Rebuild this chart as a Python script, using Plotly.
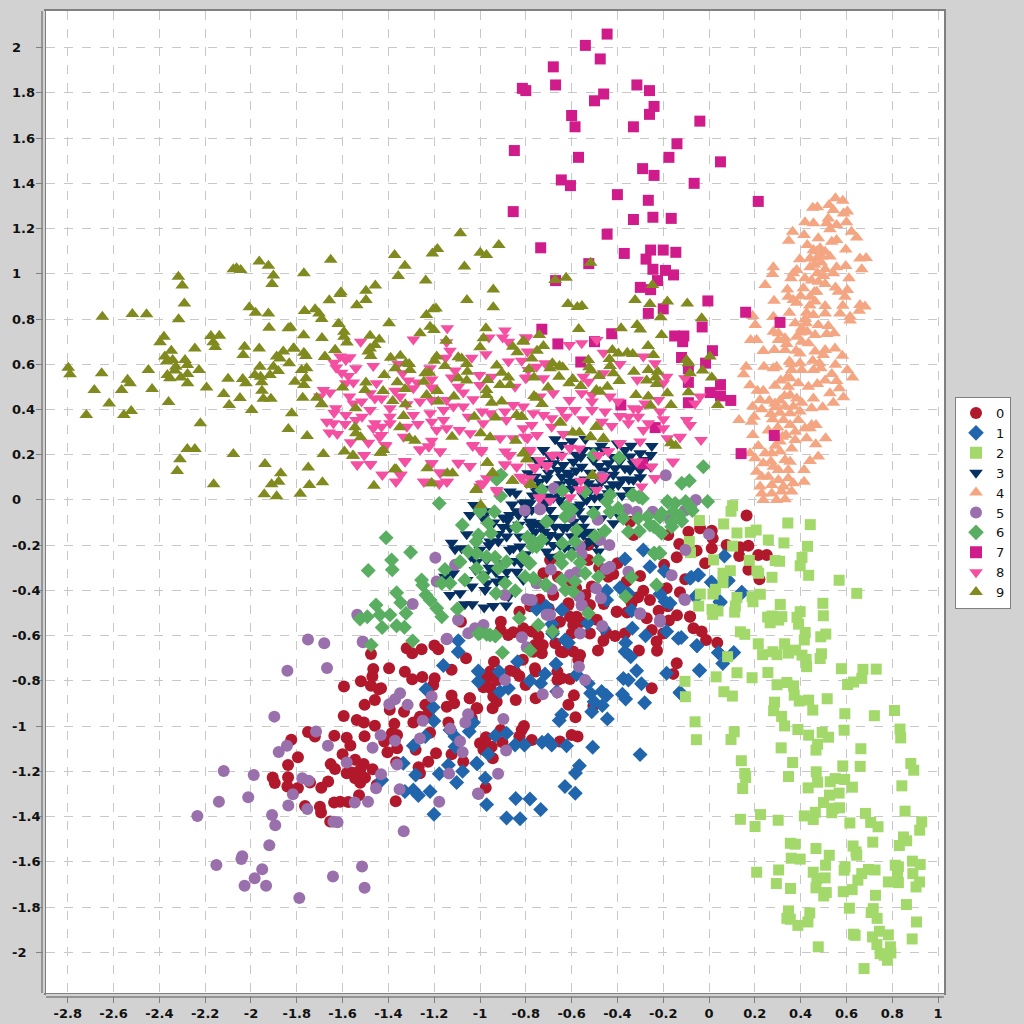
import plotly.graph_objects as go

labels = ["0", "1", "2", "3", "4", "5", "6", "7", "8", "9"]
x_ticks = [-2.8, -2.6, -2.4, -2.2, -2, -1.8, -1.6, -1.4, -1.2, -1, -0.8, -0.6, -0.4, -0.2, 0, 0.2, 0.4, 0.6, 0.8, 1]
y_ticks = [-2, -1.8, -1.6, -1.4, -1.2, -1, -0.8, -0.6, -0.4, -0.2, 0, 0.2, 0.4, 0.6, 0.8, 1, 1.2, 1.4, 1.6, 1.8, 2]

c0 = [(-1.476,-.681),(-1.397,-.744),(-1.466,-.747),(-1.47,-.781),(-1.52,-.802),(-1.594,-.825),(-1.476,-.821),(-1.432,-.833),(-1.442,-.837),(-1.328,-.76),(-1.296,-.793),(-1.252,-.783),(-1.198,-.788),(-1.204,-.818),(-1.32,-.656),(-1.296,-.678),(-1.255,-.66),(-1.199,-.644),(-1.182,-.66),(-1.083,-.538),(-1.061,-.7),(-1.124,-.751),(-1.459,-.884),(-1.504,-.906),(-1.394,-.928),(-1.332,-.936),(-1.239,-.906),(-1.226,-.943),(-1.124,-.865),(-1.045,-.877),(-1.145,-.914),(-1.113,-.899),(-1.015,-.921),(-1.595,-.955),(-1.538,-.973),(-1.507,-.984),(-1.374,-.99),(-1.459,-.998),(-1.291,-.984),(-1.262,-.958),(-1.138,-.984),(-1.824,-1.06),(-1.751,-1.026),(-1.721,-1.046),(-1.636,-1.043),(-1.582,-1.051),(-1.504,-1.045),(-1.566,-1.086),(-1.385,-1.032),(-1.418,-1.068),(-1.362,-1.039),(-1.362,-1.098),(-1.404,-1.116),(-1.218,-1.029),(-1.281,-1.105),(-1.192,-1.12),(-1.226,-1.157),(-1.366,-1.16),(-1.6,-1.124),(-1.795,-1.138),(-1.838,-1.172),(-1.652,-1.168),(-1.633,-1.19),(-1.545,-1.149),(-1.508,-1.167),(-1.523,-1.193),(-1.582,-1.208),(-1.56,-1.205),(-1.545,-1.23),(-1.523,-1.25),(-1.502,-1.228),(-1.469,-1.191),(-1.905,-1.227),(-1.896,-1.251),(-1.838,-1.226),(-1.841,-1.267),(-1.795,-1.274),(-1.742,-1.249),(-1.693,-1.272),(-1.663,-1.245),(-1.528,-1.306),(-1.764,-1.353),(-1.699,-1.356),(-1.694,-1.382),(-1.637,-1.338),(-1.611,-1.334),(-1.575,-1.335),(-1.654,-1.422),(-1.368,-1.332),(-1.268,-1.182),(-1.262,-1.208),(-1.124,-1.124),(-1.073,-1.157),(-1,-1.076),(-1.451,-1.26),
(-.828,-.494),(-.909,-.538),(-.91,-.575),(-.877,-.597),(-.855,-.585),(-.811,-.567),(-.774,-.582),(-.745,-.601),(-.76,-.641),(-.726,-.641),(-.73,-.678),(-.767,-.671),(-.651,-.538),(-.614,-.464),(-.578,-.516),(-.593,-.553),(-.6,-.59),(-.52,-.59),(-.671,-.634),(-.647,-.671),(-.636,-.673),(-.593,-.67),(-.563,-.686),(-.571,-.707),(-.485,-.666),(-.461,-.622),(-.41,-.601),(-.367,-.59),(-.447,-.59),(-.403,-.494),(-.358,-.498),(-.272,-.523),(-.25,-.575),(-.175,-.533),(-.083,-.515),(-.068,-.567),(-.032,-.582),(-.013,-.619),(.036,-.631),(-.229,-.626),(-.227,-.667),(-.306,-.666),(-.2,-.59),(-.141,-.722),(-.156,-.769),(-.25,-.833),(-.939,-.715),(-.956,-.759),(-.971,-.788),(-.927,-.796),(-.985,-.828),(-.953,-.833),(-.942,-.869),(-.927,-.892),(-.945,-.921),(-1.012,-.921),(-1.044,-.877),(-.869,-.755),(-.847,-.759),(-.828,-.778),(-.813,-.707),(-.76,-.744),(-.757,-.759),(-.801,-.818),(-.757,-.877),(-.844,-.884),(-.662,-.759),(-.662,-.796),(-.643,-.788),(-.607,-.792),(-.59,-.864),(-.614,-.905),(-.505,-.911),(-.583,-.961),(-.808,-.999),(-.818,-1.017),(-.828,-1.046),(-.91,-1.017),(-.902,-1.071),(-.974,-1.049),(-.993,-1.076),(-.985,-1.105),(-.949,-1.091),(-.944,-1.142),(-.774,-1.061),(-.651,-1.068),(-.6,-1.039),(-.574,-1.046),(-.975,-1.272),(-1.036,-.965),
(.164,-.069),(-.09,-.14),(-.039,-.125),(.012,-.136),(.016,-.169),(-.178,-.155),(-.345,-.096),(-.13,-.195),(-.054,-.224),(.012,-.214),(.077,-.199),(.172,-.202),(.132,-.248),(.215,-.243),(.252,-.243),(-.141,-.253),(-.196,-.287),(-.301,-.336),(-.4,-.28),(-.418,-.327),(-.527,-.199),(-.017,-.28),(-.104,-.351),(.172,-.309),(.22,-.351),(-.512,-.383),(-.287,-.401),(-.258,-.442),(-.127,-.408),(-.185,-.39),(-.614,-.457),(-.403,-.494),(-.52,-.464),(-.338,-.457),(-.083,-.516),(-.607,-.516),(-.658,-.258),(-.694,-.265),(-.723,-.324),(-.33,-.155),(-.527,-.265),(.135,-.209),
(-.66,-.34),(-.62,-.36),(-.58,-.39),(-.54,-.42),(-.68,-.42),(-.74,-.44),(-.78,-.47),(-.7,-.48),(-.48,-.3),(-.44,-.34),(-.36,-.36),(-.31,-.43),(-.22,-.49),(-.18,-.47),(-.14,-.51),(-.46,-.46),(-.49,-.53),(-.56,-.54),(-.68,-.56)]

c1 = [(-.753,-.483),(-.712,-.471),(-.642,-.486),(-.686,-.548),(-.53,-.545),(-.683,-.59),(-.629,-.619),(-.614,-.631),(-.338,-.489),(-.335,-.567),(-.277,-.6),(-.185,-.582),(-.134,-.612),(-.054,-.644),(.041,-.675),(-.461,-.567),(-.364,-.631),(-.367,-.67),(-.342,-.693),(-.836,-.715),(-.916,-.759),(-1.007,-.756),(-1.007,-.803),(-.782,-.8),(-.716,-.769),(-.735,-.811),(-.668,-.725),(-.578,-.772),(-.527,-.811),(-.665,-.847),(-.876,-.833),(-.913,-.848),(-.517,-.855),(-.469,-.847),(-.447,-.865),(-.502,-.892),(-.466,-.909),(-.512,-.936),(-.374,-.789),(-.352,-.796),(-.316,-.755),(-.295,-.813),(-.378,-.859),(-.364,-.88),(-.281,-.897),(-.444,-.968),(-.643,-.95),(-.654,-.975),(-.185,-.766),(-.042,-.753),(-.127,-.85),(-1.029,-.984),(-.934,-1.042),(-.884,-1.031),(-.847,-1.083),(-.806,-1.083),(-.729,-1.071),(-.703,-1.061),(-.687,-1.083),(-.622,-1.087),(-.508,-1.093),(-.301,-1.126),(-.964,-1.123),(-1.012,-1.166),(-.977,-1.23),(-.566,-1.175),(-.583,-1.207),(-.629,-1.267),(-.584,-1.297),(-.844,-1.32),(-.782,-1.322),(-.971,-1.347),(-.735,-1.369),(-.884,-1.406),(-.825,-1.41),
(-1.095,-.622),(-1.095,-.671),(-1.16,-.732),(-1.007,-.759),(-1.236,-.837),(-1.204,-.917),(-1.201,-.977),(-1.131,-1.017),(-1.109,-1.046),(-1.036,-.987),(-1.047,-1.024),(-1.239,-1.046),(-1.291,-1.087),(-1.109,-1.091),(-1.138,-1.172),(-1.015,-1.164),(-1.335,-1.164),(-1.281,-1.216),(-1.178,-1.211),(-1.076,-1.2),(-1.102,-1.249),(-1.429,-1.238),(-1.328,-1.289),(-1.291,-1.282),(-1.269,-1.307),(-1.218,-1.289),(-1.201,-1.39),
(-.287,-.221),(-.258,-.295),(.067,-.248),(-.195,-.314),(-.083,-.346),(-.049,-.332),(-.367,-.261),(-.389,-.388),(-.447,-.401),(-.214,-.416),(-.192,-.449),(-.17,-.457),(.012,-.364),(.048,-.449),(.143,-.408),(.084,-.357),(-.054,-.427),(-.352,-.413),(-.643,-.486),(-.709,-.472),(-.338,-.489),(-.447,-.442),
(-.077,-.342),(-.045,-.332),(.01,-.364),(.081,-.354),(.144,-.41),(.049,-.453),(-.06,-.428),(-.052,-.645),(.042,-.676),(.108,-.674),(.06,-.723),(-.041,-.754),(-.121,-.608),(-.125,-.855)]

c2 = [(.103,-.025),(.096,-.05),(.344,-.102),(.442,-.109),(-.042,-.091),(.064,-.106),(.122,-.146),(.18,-.143),(.206,-.133),(.259,-.177),(.327,-.19),(.43,-.205),(-.086,-.184),(.103,-.204),(-.081,-.233),(.406,-.254),(.398,-.291),(.289,-.268),(.308,-.271),(.02,-.265),(.176,-.267),(.093,-.313),(.061,-.324),(.209,-.314),(.217,-.324),(.061,-.366),(.275,-.342),(.435,-.333),(.568,-.355),(.645,-.413),(-.038,-.416),(.017,-.416),(.028,-.395),(.122,-.431),(.188,-.428),(.192,-.45),(.224,-.417),(-.045,-.469),(.311,-.462),(.497,-.457),(.013,-.484),(.039,-.491),(.016,-.506),(.115,-.469),(.112,-.496),(.256,-.518),(.275,-.513),(.318,-.516),(.267,-.543),(.304,-.531),(.398,-.494),(.384,-.519),(.391,-.549),(.499,-.512),(.42,-.586),(.416,-.619),(.488,-.605),(.51,-.593),(.137,-.583),(.156,-.594),(.215,-.636),(.33,-.636),(.234,-.684),(.279,-.671),(.297,-.684),(.347,-.677),(.376,-.664),(.406,-.686),(.424,-.705),(.426,-.737),(.491,-.68),(.485,-.701),(.081,-.693),(.578,-.746),(.672,-.749),(.73,-.748),(.667,-.789),(.631,-.805),(.605,-.816),(.122,-.764),(.188,-.786),(.257,-.763),(.031,-.782),(-.105,-.802),(.297,-.817),(.34,-.807),(.369,-.822),(.372,-.863),(.394,-.889),(.435,-.885),(.516,-.879),(.453,-.929),(.286,-.894),(.282,-.932),(.317,-.957),(.33,-.999),(.065,-.848),(.102,-.867),(-.103,-.87),(-.061,-.981),(.11,-1.025),(.096,-1.059),(-.055,-1.06),(.388,-1.015),(.435,-1.04),(.494,-1.028),(.522,-1.049),(.474,-1.08),(.467,-1.106),(.315,-1.096),(.593,-.945),(.722,-.954),(.81,-.931),(.834,-1.013),(.837,-1.052),(.59,-1.018),(.663,-1.1),(.141,-1.153),(.365,-1.161),(.156,-1.209),(.16,-1.227),(.347,-1.223),(.468,-1.202),(.584,-1.176),(.66,-1.178),(.881,-1.165),(.894,-1.195),(.147,-1.276),(.474,-1.248),(.433,-1.273),(.529,-1.246),(.551,-1.232),(.592,-1.236),(.626,-1.27),(.842,-1.264),(.526,-1.305),(.568,-1.296),(.5,-1.338),(.544,-1.364),(.57,-1.361),(.536,-1.383),(.464,-1.381),(.416,-1.397),(.455,-1.413),(.137,-1.412),(.225,-1.391),(.201,-1.444),(.302,-1.416),(.683,-1.386),(.706,-1.426),(.738,-1.445),(.615,-1.428),(.856,-1.376),(.929,-1.423),(.92,-1.46),(.355,-1.518),(.376,-1.522),(.467,-1.541),(.629,-1.53),(.642,-1.556),(.645,-1.571),(.715,-1.513),(.849,-1.49),(.863,-1.507),(.831,-1.528),(.359,-1.584),(.398,-1.588),(.525,-1.571),(.509,-1.615),(.208,-1.646),(.304,-1.636),(.455,-1.646),(.594,-1.622),(.59,-1.637),(.696,-1.634),(.725,-1.636),(.667,-1.652),(.65,-1.681),(.813,-1.615),(.827,-1.622),(.823,-1.649),(.888,-1.597),(.922,-1.612),(.89,-1.652),(.783,-1.689),(.827,-1.692),(.919,-1.689),(.904,-1.711),(.294,-1.696),(.356,-1.718),(.471,-1.674),(.507,-1.671),(.467,-1.715),(.512,-1.736),(.501,-1.751),(.586,-1.732),(.625,-1.723),(.727,-1.748),(.862,-1.789),(.347,-1.817),(.613,-1.805),(.717,-1.807),(.708,-1.824),(.734,-1.85),(.34,-1.85),(.355,-1.854),(.44,-1.826),(.432,-1.866),(.388,-1.881),(.906,-1.866),(.631,-1.92),(.638,-1.925),(.744,-1.907),(.783,-1.923),(.714,-1.932),(.733,-1.966),(.792,-1.976),(.887,-1.941),(.477,-1.976),(.747,-2.006),(.794,-2.003),(.765,-2.013),(.779,-2.035),(.677,-2.072)]

c3 = [(-1.026,-.022),(-1.044,-.066),(-1.124,-.189),(-1.058,-.152),(-1.08,-.214),(-1.109,-.218),(-1.153,-.339),(-1.117,-.324),(-1.131,-.42),(-1.087,-.413),(-1.036,-.383),(-1.066,-.461),(-1.034,-.461),(-.982,-.475),(-.942,-.469),(-.978,-.398),(-.886,-.467),(-.986,-.081),(-.898,-.077),(-.869,-.066),(-.832,-.066),(-.869,.037),(-.843,.029),(-.79,.118),(-.76,.103),(-.723,.221),(-.694,.199),(-.811,-.015),(-.774,-.044),(-.869,-.125),(-.92,-.184),(-.956,-.184),(-.884,-.162),(-.825,-.206),(-.854,-.214),(-.825,-.162),(-.782,-.096),(-.774,-.118),(-.971,-.265),(-1.015,-.273),(-.884,-.317),(-.84,-.317),(-.811,-.354),(-.971,-.368),(-.927,-.361),(-.876,-.427),(-.709,.015),(-.723,-.029),(-.753,-.103),(-.709,-.177),(-.694,-.251),(-.731,-.118),(-.913,-.28),(-1.058,-.354),
(-.25,.239),(-.254,.199),(-.301,.133),(-.254,.147),(-.345,.192),(-.367,.221),(-.44,.162),(-.556,.147),(-.592,.169),(-.643,.243),(-.672,.269),(-.636,.155),(-.68,.162),(-.658,.133),(-.709,.096),(-.607,.109),(-.585,.074),(-.643,.103),(-.505,.177),(-.418,.111),(-.367,.14),(-.33,.088),(-.352,.044),(-.396,.066),(-.454,.096),(-.498,.059),(-.527,.074),(-.432,.052),(-.345,.133),(-.476,.015),(-.534,0),(-.571,-.029),(-.651,0),(-.716,0),(-.753,.037),(-.782,-.015),(-.694,-.044),(-.549,-.081),(-.592,-.096),(-.549,-.118),(-.672,-.118),(-.636,-.125),(-.738,-.103),(-.76,-.14),(-.694,-.155),(-.418,-.103),(-.469,-.081),(-.389,-.074),(-.549,-.155),(-.527,-.14),(-.491,-.192),(-.483,-.228),(-.68,-.199),(-.709,-.228),(-.738,-.177),(-.541,-.199),(-.6,-.162),(-.731,.162),(-.753,.177),(-.694,.192),(-.549,.221),(-.461,.221),(-.301,.206),(-.279,.177),
(-.6,.05),(-.55,.02),(-.65,.07),(-.62,.12),(-.52,.12),(-.48,.15),(-.42,.07),(-.38,.02),(-.7,.12),(-.74,.08),(-.72,-.02),(-.68,-.08),(-.62,-.12),(-.57,-.05),(-.62,-.03),(-.66,.03),(-.52,.04),(-.47,.08),(-.41,.14),(-.35,.09),(-.58,.2),(-.5,.22),(-.42,.19),(-.77,.02),(-.8,-.06),(-.83,-.11),(-.86,-.02),(-.9,-.12),(-.94,-.1),(-.97,-.05),(-1,-.16),(-1.04,-.25),(-.96,-.3),(-.9,-.35),(-.85,-.27),(-.8,-.24),(-.76,-.2),(-.65,-.2),(-.6,-.22),
(-.58,.13),(-.54,.09),(-.46,.13),(-.39,.17),(-.33,.16),(-.3,.1),(-.38,.09),(-.44,.03),(-.5,.01),(-.56,-.02),(-.6,-.06),(-.64,-.02),(-.68,.01),(-.72,.05),(-.76,.06),(-.8,-.01),(-.84,-.05),(-.88,-.09),(-.92,-.15),(-.96,-.2),(-1,-.22),(-1.02,-.31),(-.98,-.33),(-.93,-.32),(-.87,-.22),(-.82,-.28),(-.78,-.16),(-.72,-.14),(-.66,-.16),(-.63,-.21),(-.58,-.16),(-.52,-.18),(-.46,-.14),(-.43,-.06),(-.5,-.04),(-.61,.08),(-.66,.2),(-.6,.26),(-.54,.27),(-.47,.24),(-.4,.25),(-.34,.24),(-.56,.19),(-.5,.18)]

c4 = [(.552,1.334),(.584,1.323),(.524,1.304),(.453,1.292),(.473,1.294),(.543,1.282),(.604,1.275),(.587,1.267),(.521,1.245),(.419,1.228),(.456,1.223),(.6,1.228),(.514,1.223),(.557,1.216),(.528,1.197),(.365,1.186),(.415,1.172),(.622,1.186),(.645,1.161),(.348,1.146),(.477,1.157),(.557,1.149),(.536,1.142),(.429,1.127),(.597,1.108),(.456,1.105),(.485,1.113),(.507,1.098),(.528,1.076),(.396,1.064),(.441,1.068),(.47,1.068),(.492,1.076),(.659,1.068),(.686,1.07),(.441,1.029),(.597,1.034),(.557,1.029),(.281,1.029),(.277,.999),(.383,1.017),(.368,1.002),(.358,.98),(.473,1.002),(.507,1.02),(.543,1.002),(.667,1.02),(.611,.98),(.419,.98),(.448,.97),(.245,.95),(.477,.965),(.507,.955),(.412,.936),(.342,.931),(.552,.939),(.565,.921),(.604,.928),(.47,.921),(.284,.881),(.346,.899),(.4,.902),(.368,.884),(.383,.872),(.441,.899),(.594,.899),(.463,.877),(.584,.859),(.507,.858),(.659,.862),(.681,.855),(.656,.837),(.351,.828),(.426,.828),(.456,.818),(.507,.825),(.572,.825),(.616,.81),(.616,.793),(.191,.813),(.281,.81),(.202,.774),(.376,.781),(.424,.781),(.477,.774),(.521,.769),(.281,.744),(.303,.737),(.405,.759),(.429,.744),(.463,.729),(.514,.734),(.546,.737),(.182,.707),(.208,.707),(.303,.707),(.332,.715),(.383,.722),(.339,.69),(.405,.7),(.434,.693),(.237,.659),(.285,.663),(.332,.663),(.463,.656),(.507,.663),(.55,.67),(.582,.638),(.397,.648),(.499,.641),(.162,.589),(.24,.589),(.281,.582),(.295,.589),(.351,.612),(.397,.604),(.453,.616),(.482,.604),(.552,.598),(.151,.556),(.361,.575),(.405,.575),(.456,.575),(.488,.582),(.604,.575),(.627,.541),(.536,.557),(.313,.528),(.354,.538),(.507,.528),(.473,.513),(.557,.526),(.179,.507),(.288,.505),(.346,.501),(.39,.516),(.434,.501),(.569,.494),(.211,.483),(.237,.483),(.528,.472),(.354,.464),(.383,.449),(.456,.449),(.587,.454),(.223,.442),(.263,.439),(.288,.427),(.405,.43),(.543,.43),(.191,.413),(.23,.401),(.332,.413),(.368,.413),(.448,.405),(.496,.41),(.31,.386),(.354,.383),(.397,.391),(.131,.354),(.197,.368),(.186,.346),(.278,.357),(.325,.354),(.39,.354),(.448,.332),(.467,.332),(.354,.332),(.191,.287),(.259,.307),(.376,.302),(.419,.317),(.441,.317),(.336,.287),(.426,.273),(.509,.273),(.376,.265),(.466,.246),(.215,.239),(.31,.258),(.361,.228),(.179,.206),(.245,.206),(.274,.206),(.31,.214),(.201,.184),(.477,.192),(.441,.172),(.237,.162),(.332,.177),(.354,.169),(.281,.147),(.415,.133),(.208,.125),(.303,.133),(.346,.133),(.23,.103),(.259,.103),(.303,.088),(.346,.096),(.415,.081),(.368,.074),(.223,.059),(.274,.066),(.325,.059),(.361,.037),(.23,.029),(.274,.029),(.317,.037),(.237,0),(.295,0),(.332,.003),
(.47,1.1),(.49,1.05),(.46,1.04),(.5,.99),(.46,.92),(.44,.86),(.42,.8),(.4,.74),(.38,.66),(.36,.6),(.34,.54),(.33,.46),(.31,.44),(.29,.41),(.27,.38),(.3,.32),(.32,.28),(.29,.24),(.27,.17)]

c5 = [(-1.751,-.617),(-1.68,-.634),(-1.511,-.629),(-1.841,-.755),(-1.668,-.743),(-1.898,-.958),(-1.716,-1.024),(-1.843,-1.087),(-1.879,-1.114),(-1.664,-1.087),(-2.119,-1.198),(-1.988,-1.216),(-2.012,-1.314),(-2.14,-1.334),(-2.234,-1.397),(-1.908,-1.393),(-1.894,-1.438),(-1.837,-1.351),(-1.817,-1.301),(-1.754,-1.366),(-1.776,-1.23),(-1.748,-1.242),(-1.92,-1.527),(-2.038,-1.575),(-2.042,-1.587),(-2.151,-1.614),(-1.951,-1.633),(-1.984,-1.673),(-2.028,-1.706),(-1.934,-1.706),(-1.789,-1.76),(-1.642,-1.665),(-1.515,-1.621),(-1.504,-1.715),(-1.64,-1.423),(-1.622,-1.425),(-1.547,-1.338),(-1.489,-1.334),(-1.432,-1.213),(-1.454,-1.275),(-1.351,-1.279),(-1.333,-1.465),(-1.178,-1.334),(-1.009,-1.298),(-1.135,-1.21),(-1.076,-1.116),(-1.362,-1.17),(-1.469,-1.096),(-1.434,-1.04),(-1.371,-1.065),(-1.262,-1.055),(-1.13,-1.011),(-1.087,-1.067),(-1.064,-.984),(-1.052,-.947),(-1.25,-.976),(-1.316,-.906),(-1.396,-.903),(-1.371,-.881),(-1.349,-.855),(-1.211,-.869),(-1.144,-.614),(-1.051,-.589),(-1.022,-.567),(-1.095,-.53),(-1.582,-1.161),
(-.985,-.553),(-.817,-.607),(-.796,-.651),(-.898,-.968),(-.891,-.796),(-.726,-.859),(-.662,-.851),(-.541,-.796),(-.568,-.737),(-.921,-1.211),(-1.006,-1.3),(-.886,-1.108),(-.702,-.508),(-.563,-.59),(-.466,-.557),(-.556,-.464),(-.301,-.504),(-.214,-.538),(-.782,-.442),(-.105,-.442),
(-.805,-.047),(-.738,-.041),(-1.195,-.255),(-1.109,-.287),(-1.189,-.361),(-1.294,-.46),(-1.536,-.508),(-1.095,-.531),(-1.512,-.626),(-1.146,-.616),(-.891,-.42),(-.796,-.439),(-.774,-.442),(-.709,-.508),(-.753,-.368),
(-.189,.109),(-.677,.052),(-.469,.103),(-.738,-.041),(-.607,-.074),(-.486,-.088),(-.36,-.041),(-.316,-.052),(-.246,-.052),(-.058,0),(-.105,-.047),(-.17,-.088),(0,-.152),(-.435,-.199),(-.476,-.177),(-.563,-.206),(-.556,-.24),(-.103,-.221),(-.163,-.333),(-.432,-.295),(-.45,-.305),(-.691,-.308),(-.607,-.332),(-.578,-.32),(-.687,-.395),(-.493,-.39),(-.568,-.427),(-.472,-.435),(-.352,-.317),(-.108,-.438),(-.556,-.467),(-.694,-.508),(-.301,-.501),(-.75,-.368),(-.214,-.53)]

c6 = [(-1.178,-.015),(-1.41,-.167),(-1.303,-.231),(-1.386,-.265),(-1.383,-.309),(-1.488,-.312),(-1.153,-.307),(-1.087,-.273),(-1.255,-.354),(-1.25,-.376),(-1.167,-.368),(-1.131,-.368),(-1.066,-.354),(-1.015,-.302),(-.986,-.342),(-.93,-.413),(-.89,-.368),(-.846,-.401),(-1.364,-.41),(-1.346,-.454),(-1.236,-.42),(-1.218,-.442),(-1.189,-.479),(-1.167,-.516),(-1.099,-.482),(-1.454,-.464),(-1.323,-.501),(-1.393,-.508),(-1.437,-.508),(-1.524,-.526),(-1.492,-.516),(-1.427,-.564),(-1.364,-.556),(-1.33,-.563),(-.828,-.523),(-1.007,-.592),(-.956,-.597),(-.932,-.601),(-1.294,-.623),(-1.475,-.641),(-.745,-.553),(-1.077,-.111),(-1,-.052),(-.937,-.052),(-.964,-.103),(-.952,-.147),(-1.007,-.155),(-1.017,-.184),(-.84,-.121),(-.793,-.165),(-.731,-.177),(-.709,-.096),(-.771,-.206),(-.814,-.251),(-.785,-.28),(-1.051,-.228),(-1.015,-.236),(-.971,-.251),(-.934,-.253),(-.884,-.273),(-.92,-.302),(-.803,-.339),(-.764,-.351),(-.716,-.376),(-.908,.111),(-.927,.091),(-.91,.018),(-.731,.044),
(-.025,.147),(-.119,.074),(-.086,.085),(-.006,-.007),(-.392,.187),(-.505,.199),(-.64,.041),(-.541,.036),(-.432,.022),(-.447,-.007),(-.291,.007),(-.33,.022),(-.182,-.007),(-.148,-.015),(-.102,-.007),(-.073,-.047),(-.156,-.052),(-.207,-.059),(-.269,-.074),(-.31,-.081),(-.396,-.037),(-.432,-.052),(-.374,-.081),(-.505,-.059),(-.622,-.029),(-.6,-.044),(-.629,-.074),(-.709,-.096),(-.578,-.133),(-.455,-.137),(-.498,-.159),(-.352,-.14),(-.304,-.137),(-.24,-.118),(-.207,-.147),(-.163,-.118),(-.119,-.093),(-.236,-.239),(-.214,-.236),(-.585,-.184),(-.64,-.192),(-.483,-.265),(-.651,-.251),(-.6,-.243),(-.563,-.277),(-.643,-.28),(-.541,-.324),(-.483,-.339),(-.338,-.342),(-.585,-.361),(-.643,-.354),(-.712,-.373),(-.627,-.398),(-.594,-.405),(-.229,-.376),(-.364,-.427),(-.527,-.501),(-.767,-.346),(-.782,-.28),(-.753,-.206),(-.767,-.184),(-.731,-.177),
(-.24,-.234),(-.218,-.234),(-.083,-.03),(-.127,-.066),(-.179,-.009),(-.258,-.111),(-.306,.013),(-.336,.022),(-.214,-.075),(-.162,-.097),(-.92,.102),(-1,-.044),(-.683,-.582),(-.902,-.675),(-.781,-.666),(-1,-.589),(-.971,-.594),(-.934,-.6)]

c7 = [(-.445,2.06),(-.54,2.01),(-.475,1.95),(-.68,1.915),(-.67,1.835),(-.815,1.82),(-.8,1.81),(-.315,1.835),(-.26,1.81),(-.46,1.795),(-.5,1.765),(-.24,1.74),(-.26,1.705),(-.6,1.7),(-.33,1.65),(-.585,1.65),(-.04,1.675),(-.14,1.575),(-.85,1.545),(-.175,1.515),(-.57,1.515),(.05,1.495),(-.29,1.465),(-.24,1.435),(-.645,1.415),(-.605,1.39),(-.065,1.4),(-.4,1.35),(-.265,1.325),(.215,1.32),(-.855,1.275),(-.33,1.24),(-.245,1.25),(-.165,1.245),(-.445,1.175),(-.735,1.115),(-.37,1.09),(-.255,1.105),(-.2,1.105),(-.145,1.095),(-.275,1.065),(-.525,1.045),(-.245,1.02),(-.19,1.015),(-.155,.995),(-.67,.97),(-.225,.97),(-.3,.94),(-.255,.93),(-.005,.88),(-.265,.825),(-.2,.845),(.16,.83),(-.03,.765),(-.73,.755),(-.425,.735),(-.15,.725),(-.11,.725),(-.115,.7),(-.66,.69),(-.5,.7),(.015,.66),(-.12,.63),(-.56,.61),(-.015,.605),(-.09,.58),(.05,.51),(-.09,.52),(.005,.475),(.05,.46),(.095,.44),(-.09,.43),(-.385,.42),(-.235,.32),(.285,.285),(.14,.205),(.31,.785),(-.29,.16)]

c8 = [(-1.143,.759),(-1.291,.71),(-1.521,.7),(-.891,.749),(-.961,.718),(-.901,.718),(-.876,.7),(-.801,.719),(-1.146,.697),(-1.131,.66),(-1.15,.629),(-.974,.644),(-1.036,.629),(-.818,.616),(-.876,.612),(-.793,.656),(-1.611,.634),(-1.568,.631),(-1.586,.619),(-1.637,.607),(-1.628,.585),(-1.542,.582),(-1.466,.592),(-1.604,.563),(-1.575,.548),(-1.357,.601),(-1.338,.56),(-1.313,.528),(-1.218,.582),(-1.274,.519),(-1.211,.533),(-1.124,.541),(-1.109,.572),(-1.003,.553),(-.949,.545),(-.789,.575),(-.801,.538),(-1.586,.516),(-1.553,.519),(-1.452,.516),(-1.371,.483),(-1.291,.494),(-1.211,.497),(-1.095,.501),(-1.073,.475),(-1.001,.508),(-.847,.501),(-1.684,.486),(-1.655,.475),(-1.699,.457),(-1.57,.457),(-1.553,.427),(-1.517,.435),(-1.48,.472),(-1.459,.449),(-1.43,.449),(-1.349,.457),(-1.319,.423),(-1.262,.435),(-1.211,.442),(-1.146,.442),(-1.073,.413),(-1.03,.445),(-1.63,.405),(-1.637,.386),(-1.586,.376),(-1.542,.354),(-1.515,.368),(-1.48,.398),(-1.393,.405),(-1.393,.368),(-1.291,.376),(-1.218,.383),(-1.159,.398),(-1.116,.413),(-.991,.391),(-.956,.383),(-.891,.391),(-.855,.42),(-.811,.413),(-1.051,.368),(-1.669,.346),(-1.64,.339),(-1.589,.336),(-1.459,.339),(-1.393,.339),(-1.319,.324),(-1.271,.336),(-1.211,.346),(-1.159,.354),(-.986,.339),(-.885,.354),(-1.658,.298),(-1.623,.292),(-1.466,.317),(-1.43,.324),(-1.43,.287),(-1.334,.28),(-1.189,.309),(-1.146,.317),(-1.09,.309),(-1.043,.295),(-.912,.273),(-.855,.273),(-.793,.273),(-1.565,.255),(-1.487,.253),(-1.439,.277),(-1.411,.24),(-1.262,.224),(-1.225,.236),(-1.211,.262),(-1.174,.214),(-1.032,.239),(-1,.221),(-.993,.214),(-.891,.214),(-.869,.199),(-.789,.206),(-1.505,.199),(-1.536,.158),(-1.477,.158),(-1.329,.172),(-1.211,.162),(-1.095,.162),(-1.043,.15),(-.891,.155),(-.84,.147),(-1.426,.111),(-1.345,.111),(-1.367,.081),(-1.245,.081),(-1.174,.118),(-1.143,.081),(-1.178,.071),(-.985,.074),(-.927,.044),(-1,.059),(-.818,.096),
(-.796,.715),(-.61,.685),(-.556,.693),(-.49,.707),(-.461,.651),(-.287,.634),(-.389,.601),(-.236,.604),(-.716,.604),(-.753,.589),(-.796,.541),(-.723,.538),(-.549,.545),(-.527,.523),(-.461,.56),(-.313,.531),(-.185,.545),(-.105,.538),(-.2,.516),(-.039,.457),(-.061,.427),(-.221,.442),(-.68,.472),(-.738,.457),(-.556,.472),(-.61,.442),(-.511,.464),(-.511,.435),(-.433,.457),(-.398,.435),(-.279,.427),(-.33,.405),(-.309,.402),(-.214,.391),(-.199,.357),(-.643,.398),(-.585,.398),(-.511,.398),(-.454,.391),(-.767,.383),(-.723,.376),(-.687,.361),(-.623,.368),(-.55,.357),(-.467,.346),(-.389,.371),(-.352,.368),(-.309,.368),(-.265,.339),(-.098,.354),(-.083,.332),(-.811,.317),(-.774,.332),(-.687,.324),(-.425,.327),(-.352,.339),(-.287,.309),(-.199,.317),(-.182,.273),(-.127,.276),(-.035,.265),(-.803,.28),(-.751,.287),(-.636,.292),(-.389,.251),(-.301,.258),(-.607,.231),(-.566,.228),(-.481,.199),(-.44,.214),(-.782,.214),(-.678,.199),(-.156,.169),(-.25,.147),(-.316,.169),(-.76,.14),(-.709,.155),(-.236,.096),(-.782,.096),(-.461,.103),
(-.56,.085),(-.491,.044),(-.469,.096),(-.566,.047),(-.694,-.003),(-.607,.012),(-.741,.012),(-.294,.059),(-.236,.096),(-.159,.169),(-.127,.28),(-.083,.332),(-.44,.214),(-.483,.199),(-.607,.228),(-.687,.199),(-.643,.195),(-.738,.177),(-.767,.147),(-.709,.147),(-.316,.169),(-.39,.25),
(-1.536,.155),(-1.48,.159),(-1.506,.199),(-1.427,.111),(-1.327,.169),(-1.367,.081),(-1.349,.111),(-1.245,.081),(-1.211,.162),(-1.174,.122),(-1.178,.074),(-1.146,.081),(-1.094,.165),(-1.046,.15),(-1.174,.214),(-1.262,.221),(-1.222,.236),(-1.415,.243),(-.891,.158),(-.993,.071),(-.971,.096),(-.927,.037),(-.84,.147),(-.825,.103),(-.796,.074),(-.74,.007),(-.876,.199),(-1.03,.243),(-.993,.221),(-.785,.221)]

c9 = [(-2.798,.585),(-2.79,.556),(-2.649,.81),(-2.518,.822),(-2.456,.821),(-2.317,.987),(-2.3,.948),(-2.291,.869),(-2.316,.799),(-2.38,.722),(-2.397,.697),(-2.348,.66),(-2.245,.67),(-2.376,.634),(-2.368,.612),(-2.342,.619),(-2.328,.589),(-2.332,.572),(-2.288,.619),(-2.278,.597),(-2.227,.575),(-2.448,.575),(-2.652,.56),(-2.539,.531),(-2.528,.516),(-2.684,.486),(-2.565,.486),(-2.432,.491),(-2.365,.553),(-2.354,.538),(-2.306,.542),(-2.277,.557),(-2.277,.516),(-2.619,.427),(-2.36,.433),(-2.523,.393),(-2.555,.376),(-2.719,.376),(-2.221,.339),(-2.194,.497),(-2.1,.536),(-2.119,.469),(-2.048,.451),(-2.095,.42),(-1.997,.398),(-2.036,.535),(-2.022,.516),(-1.983,.553),(-1.961,.589),(-1.958,.545),(-1.953,.52),(-1.952,.483),(-1.946,.447),(-1.913,.447),(-1.917,.553),(-1.902,.589),(-1.881,.57),(-1.888,.634),(-1.873,.626),(-1.859,.656),(-1.833,.604),(-1.815,.67),(-1.779,.575),(-1.757,.582),(-1.76,.538),(-1.808,.523),(-1.769,.508),(-1.774,.452),(-1.713,.452),(-1.691,.423),(-1.822,.383),(-1.837,.314),(-1.755,.283),(-1.684,.203),(-2.077,.203),(-2.278,.225),(-2.245,.225),(-2.31,.18),(-2.322,.128),(-2.163,.069),(-1.939,.159),(-1.87,.118),(-1.879,.081),(-1.91,.069),(-1.942,.025),(-1.888,.016),(-1.785,.027),(-1.745,.066),(-1.688,.078),(-1.75,.143),(-1.964,1.054),(-1.924,1.036),(-1.902,.992),(-1.908,.955),(-2.077,1.02),(-2.063,1.024),(-2.045,1.017),(-1.769,1.002),(-1.652,1.062),(-2.007,.852),(-1.98,.828),(-1.924,.825),(-1.766,.836),(-1.72,.843),(-1.703,.825),(-1.691,.8),(-1.658,.883),(-1.611,.911),(-1.619,.778),(-1.921,.762),(-1.837,.759),(-1.827,.763),(-1.77,.728),(-1.69,.716),(-1.632,.663),(-1.678,.632),(-1.812,.67),(-1.769,.651),(-1.76,.637),(-2.028,.678),(-2.034,.641),(-1.964,.67),(-2.175,.725),(-2.138,.726),(-2.165,.697),(-2.156,.676),
(-1.086,1.179),(-.918,1.127),(-.999,1.093),(-.972,1.083),(-1.186,1.11),(-1.208,1.09),(-1.373,1.083),(-1.328,1.036),(-1.068,1.032),(-1.357,.99),(-1.237,.97),(-1.457,.948),(-1.498,.925),(-1.607,.918),(-1.498,.884),(-1.538,.861),(-.942,.931),(-1.057,.884),(-.942,.852),(-1.192,.847),(-1.204,.843),(-1.234,.818),(-1.616,.778),(-1.397,.781),(-1.218,.766),(-1.201,.752),(-1.594,.744),(-1.262,.737),(-1.594,.722),(-1.48,.726),(-.974,.759),(-.985,.715),(-1.44,.71),(-1.459,.685),(-1.581,.696),(-1.148,.704),(-1,.675),(-1.633,.663),(-1.48,.67),(-1.488,.656),(-1.477,.637),(-1.677,.634),(-1.39,.629),(-1.348,.638),(-1.189,.634),(-1.199,.616),(-1.095,.631),(-1.08,.626),(-1.37,.582),(-1.323,.604),(-1.309,.601),(-1.306,.575),(-1.153,.592),(-1.058,.601),(-.927,.595),(-.857,.678),(-.837,.653),(-.811,.7),(-1.055,.567),(-1.095,.538),(-1.058,.528),(-1.418,.553),(-1.24,.56),(-1.221,.563),(-1.245,.523),(-1.361,.52),(-1.498,.519),(-1.502,.486),(-1.6,.497),(-1.423,.482),(-1.327,.491),(-1.233,.464),(-1.186,.482),(-1.114,.457),(-.967,.53),(-.905,.563),(-.876,.542),(-.913,.508),(-.869,.508),(-.971,.486),(-.971,.464),(-.949,.43),(-.905,.435),(-1.381,.438),(-1.326,.423),(-1.182,.435),(-1.691,.424),(-1.543,.405),(-1.334,.371),(-1.025,.368),(-.932,.365),(-.84,.376),(-.818,.368),(-1.546,.321),(-1.35,.321),(-1.542,.295),(-1.521,.277),(-1.309,.273),(-1.284,.262),(-1.122,.28),(-.997,.295),(-.956,.277),(-.844,.262),(-.811,.206),(-1.592,.214),(-1.556,.195),(-1.422,.221),(-1.434,.209),(-.968,.165),(-1.373,.136),(-1.23,.14),(-1.143,.118),(-1.12,.118),(-1.211,.074),(-1.463,.063),(-.945,.118),(-1.017,.047),(-.857,.085),
(-.517,1.049),(-.672,.973),(-.624,.983),(-.247,.95),(-.323,.884),(-.258,.866),(-.182,.877),(-.095,.869),(-.616,.866),(-.575,.853),(-.555,.858),(-.211,.808),(-.032,.803),(-.314,.774),(-.3,.754),(-.384,.759),(-.569,.756),(-.207,.729),(-.741,.729),(-.811,.703),(-.723,.681),(-.266,.681),(-.751,.66),(-.422,.663),(-.396,.648),(-.357,.651),(-.333,.645),(-.243,.641),(-.774,.625),(-.527,.619),(-.435,.623),(-.098,.619),(.004,.634),(-.09,.604),(-.684,.604),(-.653,.592),(-.639,.587),(-.694,.582),(-.786,.579),(-.524,.587),(-.432,.592),(-.515,.572),(-.328,.567),(-.265,.575),(-.224,.567),(-.083,.56),(-.028,.572),(-.655,.545),(-.764,.541),(-.48,.548),(-.418,.56),(.012,.542),(-.595,.535),(-.611,.516),(-.392,.526),(-.272,.528),(-.233,.542),(-.229,.513),(-.56,.504),(-.444,.501),(-.703,.497),(-.492,.486),(-.476,.479),(-.09,.476),(-.182,.472),(-.319,.464),(-.265,.457),(-.764,.46),(-.755,.452),(-.729,.424),(-.255,.417),(-.166,.42),(.038,.42),(-.651,.343),(-.818,.368),(-.493,.324),(-.595,.298),(-.566,.298),(-.517,.28),(-.461,.27),(-.167,.251),(-.146,.24),(-.808,.206),(-.793,.18),(-.508,.106),
(-.648,.342),(-.49,.324),(-.52,.277),(-.461,.273),(-.509,.111),(-.774,.066),(-1.553,.195),(-1.434,.209),(-1.366,.136),(-1.211,.074),(-1.017,.044),(-.997,-.022),(-.968,.165),(-.945,.121),(-.859,.085),(-.811,.206),(-.796,.18),(-.779,.071)]

series = [c0, c1, c2, c3, c4, c5, c6, c7, c8, c9]
colors = ["#b2182b", "#2166ac", "#a2d96a", "#053061", "#f4a582", "#9970ab", "#5aae61", "#d01c8b", "#f44fa0", "#808a1e"]
symbols = ["circle", "diamond", "square", "triangle-down", "triangle-up", "circle", "diamond", "square", "triangle-down", "triangle-up"]
sizes = [12, 11.5, 11, 12, 12, 12, 11.5, 11, 12, 12]

BG = "#d2d2d2"
fig = go.Figure()
for name, pts, col, sym, sz in zip(labels, series, colors, symbols, sizes):
    fig.add_trace(go.Scatter(x=[p[0] for p in pts], y=[p[1] for p in pts], mode="markers", name=name,
                             marker=dict(color=col, symbol=sym, size=sz, line=dict(width=0))))

tickfont = dict(family="DejaVu Sans", size=13, color="#111111", weight="bold")
axis = dict(showgrid=True, gridcolor="#c8c8c8", gridwidth=1, griddash="dash", zeroline=False,
            showline=True, linecolor="#808080", linewidth=1.5, mirror=True,
            ticks="outside", ticklen=8, tickcolor="#808080", tickwidth=1, tickfont=tickfont)
fig.update_layout(
    width=1024, height=1024, margin=dict(l=46, r=80, t=11, b=31, autoexpand=False),
    paper_bgcolor=BG, plot_bgcolor="white", font=dict(family="DejaVu Sans", size=13, color="#111111"),
    xaxis=dict(range=[-2.895, 1.026], tickvals=x_ticks, ticktext=[str(v) for v in x_ticks], **axis),
    yaxis=dict(range=[-2.18, 2.162], tickvals=y_ticks, ticktext=["" for v in y_ticks], **axis),
    legend=dict(x=(955-46)/898, y=(993-397)/982, xanchor="left", yanchor="top",
                bgcolor="white", bordercolor="#808080", borderwidth=1, font=dict(size=13), itemsizing="constant"),
    annotations=[dict(xref="paper", yref="y", x=(10-46)/898, y=v, text=str(v), showarrow=False,
                      xanchor="left", yanchor="middle", xshift=0, font=tickfont) for v in y_ticks],
    shapes=[
        dict(type="rect", xref="paper", yref="paper", x0=0, x1=1, y0=-3.2/982, y1=-1/982, fillcolor=BG, line=dict(width=0)),
        dict(type="line", xref="paper", yref="paper", x0=0, x1=1, y0=-4/982, y1=-4/982, line=dict(color="#808080", width=1.5)),
        dict(type="rect", xref="paper", yref="paper", x0=-3/898, x1=-1/898, y0=0, y1=1, fillcolor=BG, line=dict(width=0)),
        dict(type="line", xref="paper", yref="paper", x0=-4/898, x1=-4/898, y0=0, y1=1, line=dict(color="#808080", width=1.5)),
    ],
)
fig.write_html("out.html", config={"displayModeBar": False}, post_script="document.body.style.margin='0';document.body.style.overflow='hidden';")
